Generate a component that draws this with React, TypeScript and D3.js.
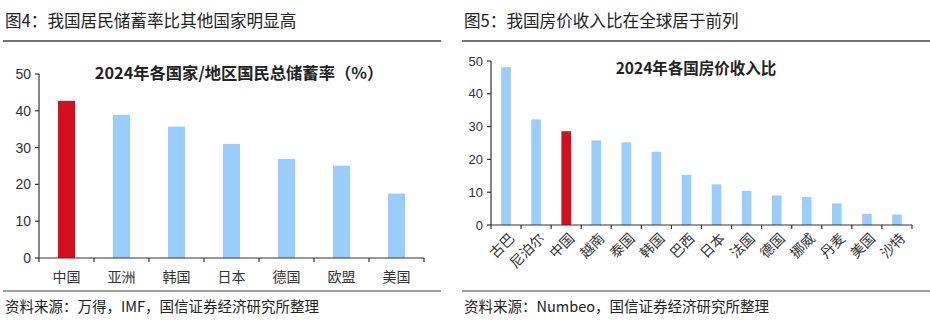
import React from "react";
import * as d3 from "d3";

const leftCategories = ["中国", "亚洲", "韩国", "日本", "德国", "欧盟", "美国"];
const leftValues = [42.7, 38.9, 35.7, 31.0, 26.9, 25.1, 17.5];
const leftHighlight = "中国";

const rightCategories = ["古巴", "尼泊尔", "中国", "越南", "泰国", "韩国", "巴西", "日本", "法国", "德国", "挪威", "丹麦", "美国", "沙特"];
const rightValues = [48.1, 32.2, 28.6, 25.8, 25.2, 22.3, 15.3, 12.4, 10.4, 9.0, 8.5, 6.6, 3.4, 3.2];
const rightHighlight = "中国";

const yTicks = [0, 10, 20, 30, 40, 50];

const RED = "#d40f1e";
const BLUE = "#99ccff";
const AXIS = "#333333";
const CJK = "'Noto Sans CJK SC', 'Liberation Sans', sans-serif";
const NUM = "'Liberation Sans', Arial, sans-serif";

function Panel(props: {
  x0: number; lineX1: number; header: string; title: string; titleX: number; titleY: number; titleSize: number;
  cats: string[]; vals: number[]; highlight: string;
  axisX0: number; axisX1: number; yTop: number; yBottom: number;
  barFrac: number; rotate: boolean; source: string;
}) {
  const { x0, lineX1, header, title, titleX, titleY, titleSize, cats, vals, highlight, axisX0, axisX1, yTop, yBottom, barFrac, rotate, source } = props;
  const x = d3.scaleBand<string>().domain(cats).range([axisX0, axisX1]).paddingInner(0).paddingOuter(0);
  const y = d3.scaleLinear().domain([0, 50]).range([yBottom, yTop]);
  const bw = x.bandwidth() * barFrac;
  const boundaries = cats.map((c) => x(c)!).concat([axisX1]);
  return (
    <g>
      <text x={x0 + 2} y={27} fontFamily={CJK} fontSize={16.6} fill="#222">{header}</text>
      <line x1={x0} x2={lineX1} y1={41} y2={41} stroke="#444" strokeWidth={1.5} />
      <text x={titleX} y={titleY} textAnchor="middle" dominantBaseline="central" fontFamily={CJK} fontWeight="bold" fontSize={titleSize} fill="#222">{title}</text>
      {cats.map((c, i) => (
        <rect key={c} x={x(c)! + (x.bandwidth() - bw) / 2} y={y(vals[i])} width={bw} height={y(0) - y(vals[i])} fill={c === highlight ? RED : BLUE} />
      ))}
      <line x1={axisX0} x2={axisX0} y1={yTop} y2={yBottom} stroke={AXIS} strokeWidth={1.2} />
      <line x1={axisX0} x2={axisX1} y1={yBottom} y2={yBottom} stroke={AXIS} strokeWidth={1.2} />
      {yTicks.map((t) => (
        <g key={t}>
          <line x1={axisX0 - 4} x2={axisX0} y1={y(t)} y2={y(t)} stroke={AXIS} strokeWidth={1.2} />
          <text x={axisX0 - 8} y={y(t)} textAnchor="end" dominantBaseline="central" fontFamily={NUM} fontSize={rotate ? 13 : 14} fill="#333">{t}</text>
        </g>
      ))}
      {boundaries.map((b, i) => (
        <line key={i} x1={b} x2={b} y1={yBottom} y2={yBottom + 4} stroke={AXIS} strokeWidth={1.2} />
      ))}
      {cats.map((c) => {
        const cx = x(c)! + x.bandwidth() / 2;
        if (rotate) {
          return (
            <text key={c} transform={`translate(${cx + 5},${yBottom + 10}) rotate(-45)`} textAnchor="end" dominantBaseline="central" fontFamily={CJK} fontSize={14} fill="#333">{c}</text>
          );
        }
        return (
          <text key={c} x={cx} y={yBottom + 18} textAnchor="middle" dominantBaseline="central" fontFamily={CJK} fontSize={14} fill="#333">{c}</text>
        );
      })}
      <line x1={x0} x2={lineX1} y1={291} y2={291} stroke="#444" strokeWidth={1.2} />
      <text x={x0 + 2} y={312} fontFamily={CJK} fontSize={14.5} fill="#222">{source}</text>
    </g>
  );
}

export default function App() {
  return (
    <svg width={930} height={332} style={{ position: "absolute", left: 0, top: 0, background: "#fff" }}>
      <rect x={0} y={0} width={930} height={332} fill="#fff" />
      <Panel x0={3} lineX1={441} header="图4：我国居民储蓄率比其他国家明显高" title="2024年各国家/地区国民总储蓄率（%）" titleX={239} titleY={72} titleSize={16.3}
        cats={leftCategories} vals={leftValues} highlight={leftHighlight}
        axisX0={39} axisX1={424} yTop={74} yBottom={258} barFrac={0.31} rotate={false}
        source="资料来源：万得，IMF，国信证券经济研究所整理" />
      <Panel x0={462} lineX1={930} header="图5：我国房价收入比在全球居于前列" title="2024年各国房价收入比" titleX={696} titleY={67} titleSize={15.5}
        cats={rightCategories} vals={rightValues} highlight={rightHighlight}
        axisX0={491} axisX1={912} yTop={61} yBottom={225} barFrac={0.32} rotate={true}
        source="资料来源：Numbeo，国信证券经济研究所整理" />
    </svg>
  );
}
